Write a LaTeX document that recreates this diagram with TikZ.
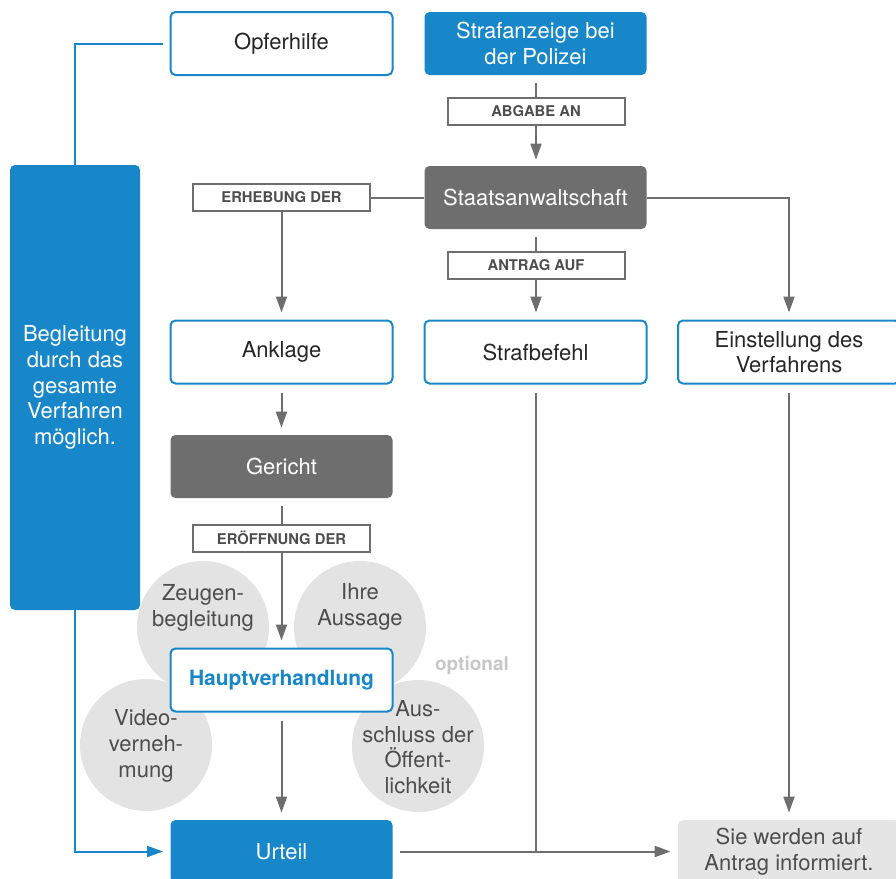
\documentclass[tikz,border=0pt]{standalone}
\usepackage{fontspec}
\setmainfont{TeX Gyre Heros}
\usetikzlibrary{arrows.meta}

\definecolor{amtblau}{HTML}{1787C9}
\definecolor{amtgrau}{HTML}{6E6E6E}
\definecolor{kreisgrau}{HTML}{E3E3E3}
\definecolor{textgrau}{HTML}{4D4D4D}

\begin{document}
\begin{tikzpicture}[x=0.5pt, y=-0.5pt,
	box/.style={rectangle, rounded corners=2.5pt, minimum width=111pt, minimum height=31.5pt,
		inner sep=0pt, align=center, font=\fontsize{11}{12.85}\selectfont},
	weiss/.style={box, draw=amtblau, line width=1pt, fill=white, text=black!85},
	blau/.style={box, fill=amtblau, text=white},
	dunkel/.style={box, fill=amtgrau, text=white},
	hell/.style={box, fill=black!10, text=textgrau},
	stichwort/.style={rectangle, draw=amtgrau, line width=1pt, fill=white, minimum width=88.5pt,
		minimum height=13.5pt, inner sep=0pt, text=textgrau, font=\bfseries\fontsize{7.4}{8}\selectfont},
	kreis/.style={circle, fill=kreisgrau, minimum size=66pt, inner sep=0pt},
	kreistext/.style={align=center, inner sep=0pt, text=textgrau, font=\fontsize{11}{12.85}\selectfont},
	linie/.style={draw=amtgrau, line width=1pt},
	pfeil/.style={linie, -{Triangle[length=8pt,width=5.5pt]}},
	blaulinie/.style={draw=amtblau, line width=1pt}]

	\useasboundingbox (0,0) rectangle (896,879);
	\clip (0,0) rectangle (896,879);

	% obere Reihe
	\node[weiss] (opfer) at (281.5,43.5) {Opferhilfe};
	\node[blau] (anzeige) at (535.5,43.5) {Strafanzeige bei\\der Polizei};
	\node[stichwort] (abgabe) at (536,111) {ABGABE AN};
	\node[dunkel] (staat) at (535.5,197.5) {Staatsanwaltschaft};
	\node[stichwort] (erhebung) at (281.5,197.5) {ERHEBUNG DER};
	\node[stichwort] (antrag) at (536,265) {ANTRAG AUF};

	% Begleitung links
	\node[blau, minimum width=65pt, minimum height=222.5pt] (begl) at (75,387.5)
		{Begleitung\\durch das\\gesamte\\Verfahren\\möglich.};

	% mittlere Reihe
	\node[weiss] (anklage) at (281.5,352) {Anklage};
	\node[weiss] (strafbefehl) at (535.5,352) {Strafbefehl};
	\node[weiss] (einst) at (789,352) {Einstellung des\\Verfahrens};
	\node[dunkel] (gericht) at (281.5,466.5) {Gericht};
	\node[stichwort] (eroeffnung) at (281.5,538) {ERÖFFNUNG DER};

	% Kreise um die Hauptverhandlung
	\node[kreis] (zeugen) at (203,627) {};
	\node[kreis] (aussage) at (360,627) {};
	\node[kreis] (video) at (146,745) {};
	\node[kreis] (ausschluss) at (418,746) {};
	\node[kreistext] (zeugen-t) at (203,608) {Zeugen-\\begleitung};
	\node[kreistext] (aussage-t) at (360,607) {Ihre\\Aussage};
	\node[kreistext] (video-t) at (146,746) {Video-\\verneh-\\mung};
	\node[kreistext] (ausschluss-t) at (418,747) {Aus-\\schluss der\\Öffent-\\lichkeit};
	\node[text=black!22, font=\bfseries\fontsize{9.5}{10}\selectfont] (optional) at (472,665) {optional};
	\node[weiss, text=amtblau, font=\bfseries\fontsize{10.5}{12}\selectfont] (haupt) at (281.5,680) {Hauptverhandlung};

	% untere Reihe
	\node[blau] (urteil) at (281.5,851.5) {Urteil};
	\node[hell] (sie) at (789,851.5) {Sie werden auf\\Antrag informiert.};
	\coordinate (treffen) at (strafbefehl.south |- urteil.east);

	% Verbindungen
	\draw[blaulinie, shorten <=3.5pt] (opfer.west) -| (begl.north);
	\draw[blaulinie, -{Triangle[length=8pt,width=5.5pt]}, shorten >=3.5pt] (begl.south) |- (urteil.west);
	\draw[linie, shorten <=4pt] (anzeige.south) -- (anzeige.south |- abgabe.north);
	\draw[pfeil, shorten >=3pt] (abgabe.south) -- (abgabe.south |- staat.north);
	\draw[linie] (staat.west) -- (erhebung.east);
	\draw[pfeil, shorten >=3.5pt] (erhebung.south) -- (anklage.north);
	\draw[linie, shorten <=4pt] (staat.south) -- (staat.south |- antrag.north);
	\draw[pfeil, shorten >=3.5pt] (antrag.south) -- (antrag.south |- strafbefehl.north);
	\draw[pfeil, shorten >=3.5pt] (staat.east) -| (einst.north);
	\draw[pfeil, shorten <=4pt, shorten >=3.5pt] (anklage.south) -- (gericht.north);
	\draw[linie, shorten <=4pt] (gericht.south) -- (eroeffnung.north);
	\draw[pfeil, shorten >=3.5pt] (eroeffnung.south) -- (haupt.north);
	\draw[pfeil, shorten <=4pt, shorten >=3.5pt] (haupt.south) -- (urteil.north);
	\draw[linie, shorten <=4pt] (strafbefehl.south) -- (treffen);
	\draw[pfeil, shorten <=3.5pt, shorten >=3.5pt] (urteil.east) -- (sie.west);
	\draw[pfeil, shorten <=4pt, shorten >=3.5pt] (einst.south) -- (sie.north);
\end{tikzpicture}
\end{document}
